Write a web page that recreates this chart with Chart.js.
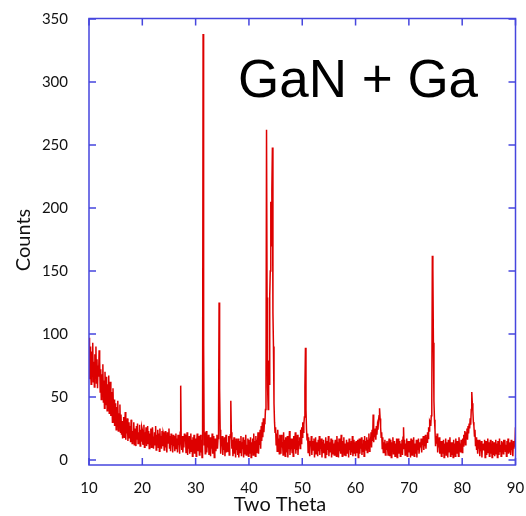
<!DOCTYPE html>
<html>
<head>
<meta charset="utf-8">
<script src="https://cdn.jsdelivr.net/npm/chart.js@4.4.0/dist/chart.umd.min.js"></script>
<style>
  html, body { margin: 0; padding: 0; background: #fff; }
  #xrdChart { display: block; }
</style>
</head>
<body>
<canvas id="xrdChart" width="526" height="516"></canvas>
<script>
// scan grid: 10 to 90 degrees two-theta, 0.1 degree steps
var startAngle = 10;
var stepAngle = 0.1;

// counts, one row per 2 degrees
var counts = [
    97, 64, 90, 71, 60, 86, 67, 93, 62, 78, 58, 84, 69, 90, 61, 80, 57, 75, 66, 87,
    79, 54, 72, 48, 68, 57, 76, 46, 63, 41, 70, 52, 44, 66, 39, 60, 48, 67, 37, 55,
    62, 35, 54, 43, 30, 57, 34, 48, 27, 45, 39, 24, 42, 31, 47, 23, 37, 28, 44, 22,
    36, 20, 31, 17, 28, 34, 18, 26, 38, 16, 29, 21, 33, 15, 25, 30, 17, 27, 14, 32,
    28, 13, 23, 18, 30, 12, 25, 20, 11, 27, 16, 29, 13, 22, 19, 28, 11, 24, 15, 26,
    24, 12, 20, 28, 10, 22, 15, 26, 11, 19, 27, 13, 23, 9, 21, 16, 25, 10, 18, 26,
    26, 9, 18, 22, 12, 27, 8, 20, 14, 24, 10, 21, 7, 25, 13, 19, 9, 23, 11, 22,
    20, 8, 16, 23, 10, 18, 6, 22, 13, 17, 25, 9, 19, 7, 21, 12, 18, 6, 20, 11,
    19, 7, 15, 21, 9, 17, 6, 20, 12, 16, 5, 22, 59, 14, 8, 19, 6, 17, 10, 21,
    15, 20, 6, 13, 22, 4, 17, 9, 19, 5, 14, 21, 7, 16, 3, 18, 11, 20, 5, 15,
    17, 3, 14, 21, 7, 15, 19, 4, 12, 20, 6, 16, 2, 18, 338, 91, 12, 22, 5, 17,
    23, 6, 16, 10, 20, 4, 13, 18, 3, 16, 9, 21, 5, 14, 19, 2, 12, 17, 7, 15,
    20, 9, 17, 30, 125, 57, 24, 5, 15, 11, 19, 4, 16, 8, 18, 3, 13, 20, 6, 14,
    14, 7, 19, 4, 16, 20, 47, 22, 9, 16, 3, 12, 18, 5, 15, 2, 17, 8, 13, 4,
    17, 2, 11, 15, 6, 19, 3, 14, 9, 18, 2, 13, 16, 5, 20, 4, 12, 7, 17, 3,
    16, 5, 12, 18, 2, 14, 7, 17, 4, 21, 8, 15, 3, 19, 6, 16, 10, 22, 5, 18,
    12, 24, 9, 27, 15, 30, 18, 33, 22, 29, 30, 40, 63, 262, 129, 58, 40, 79, 60, 130,
    150, 205, 170, 214, 248, 117, 90, 45, 30, 22, 26, 12, 21, 7, 24, 10, 17, 5, 20, 9,
    5, 20, 10, 14, 4, 22, 8, 16, 3, 18, 11, 6, 19, 2, 15, 9, 23, 4, 13, 17,
    11, 6, 17, 3, 19, 9, 14, 22, 5, 16, 8, 20, 4, 15, 12, 18, 9, 24, 13, 26,
    18, 30, 22, 28, 34, 58, 89, 40, 24, 16, 21, 6, 18, 9, 3, 15, 11, 19, 4, 14,
    15, 8, 17, 2, 12, 18, 5, 14, 10, 3, 16, 7, 19, 4, 13, 9, 17, 2, 14, 6,
    16, 7, 13, 2, 18, 10, 4, 15, 8, 19, 3, 14, 11, 6, 17, 2, 12, 16, 5, 13,
    4, 12, 16, 6, 3, 19, 9, 14, 2, 17, 7, 13, 5, 20, 10, 3, 15, 8, 18, 4,
    7, 13, 3, 16, 10, 5, 14, 2, 17, 8, 12, 4, 15, 6, 19, 3, 11, 16, 5, 14,
    3, 15, 11, 6, 16, 2, 12, 17, 5, 14, 9, 18, 4, 13, 7, 16, 3, 19, 10, 15,
    8, 18, 6, 16, 11, 21, 7, 17, 13, 22, 10, 24, 15, 36, 14, 23, 18, 25, 16, 27,
    20, 27, 24, 31, 35, 41, 33, 26, 18, 22, 9, 18, 6, 14, 10, 16, 4, 13, 8, 15,
    15, 4, 12, 17, 3, 9, 16, 2, 14, 7, 18, 5, 11, 15, 3, 13, 8, 17, 2, 12,
    17, 5, 11, 15, 3, 13, 8, 16, 4, 18, 26, 9, 16, 4, 13, 7, 17, 3, 12, 15,
    6, 15, 9, 2, 17, 11, 4, 16, 7, 18, 3, 13, 10, 5, 16, 2, 14, 8, 17, 5,
    5, 14, 10, 17, 6, 15, 12, 19, 8, 16, 11, 20, 9, 18, 14, 22, 17, 26, 23, 31,
    30, 27, 35, 48, 162, 152, 93, 47, 32, 24, 11, 19, 13, 21, 6, 16, 10, 18, 5, 15,
    9, 3, 15, 11, 5, 16, 2, 13, 8, 17, 4, 14, 10, 2, 16, 6, 12, 18, 3, 14,
    4, 14, 10, 2, 16, 7, 13, 3, 17, 9, 5, 15, 11, 3, 18, 8, 13, 6, 16, 10,
    6, 17, 11, 20, 14, 23, 12, 22, 17, 25, 16, 27, 21, 29, 25, 33, 28, 40, 54, 45,
    39, 30, 27, 19, 24, 11, 18, 8, 16, 5, 14, 9, 16, 3, 13, 7, 15, 2, 12, 8,
    13, 8, 16, 2, 11, 15, 4, 12, 17, 6, 14, 3, 10, 16, 5, 13, 2, 15, 9, 4,
    14, 3, 10, 16, 5, 13, 2, 15, 9, 4, 17, 7, 12, 3, 15, 9, 14, 5, 16, 11,
    16, 7, 12, 3, 15, 9, 17, 5, 13, 6, 14, 4, 16, 8, 12, 3, 15, 9, 13, 12,
    26
];

var xTicks = [10, 20, 30, 40, 50, 60, 70, 80, 90];
var yTicks = [0, 50, 100, 150, 200, 250, 300, 350];

var sampleName = 'GaN + Ga';
var xTitle = 'Two Theta';
var yTitle = 'Counts';

var points = counts.map(function(c, i) {
    return { x: +(startAngle + i * stepAngle).toFixed(1), y: c };
});

var frameColor = '#4646de';
var labelFont = 'Lato, "DejaVu Sans", sans-serif';

// box around the plot with inward ticks on all four sides, plus the text
var framePlugin = {
    id: 'frame',
    afterDraw: function(chart) {
        var ctx = chart.ctx;
        var a = chart.chartArea;
        var xs = chart.scales.x, ys = chart.scales.y;
        var len = 7;
        ctx.save();
        ctx.strokeStyle = frameColor;
        ctx.lineWidth = 1.5;
        ctx.strokeRect(a.left, a.top, a.right - a.left, a.bottom - a.top);
        ctx.beginPath();
        xs.ticks.forEach(function(t) {
            var px = xs.getPixelForValue(t.value);
            ctx.moveTo(px, a.bottom); ctx.lineTo(px, a.bottom - len);
            ctx.moveTo(px, a.top); ctx.lineTo(px, a.top + len);
        });
        ys.ticks.forEach(function(t) {
            var py = ys.getPixelForValue(t.value);
            ctx.moveTo(a.left, py); ctx.lineTo(a.left + len, py);
            ctx.moveTo(a.right, py); ctx.lineTo(a.right - len, py);
        });
        ctx.stroke();

        ctx.fillStyle = '#000';
        ctx.font = '53px "Liberation Sans", Arial, sans-serif';
        ctx.textAlign = 'left';
        ctx.textBaseline = 'alphabetic';
        ctx.fillText(sampleName, 238, 97);

        ctx.fillStyle = '#111';
        ctx.font = '20px ' + labelFont;
        ctx.textAlign = 'center';
        ctx.textBaseline = 'middle';
        ctx.fillText(xTitle, 280, 505);
        ctx.translate(24, 240);
        ctx.rotate(-Math.PI / 2);
        ctx.fillText(yTitle, 0, 0);
        ctx.restore();
    }
};

var ctx = document.getElementById('xrdChart').getContext('2d');
var chart = new Chart(ctx, {
    type: 'line',
    data: {
        datasets: [{
            label: 'Counts',
            data: points,
            borderColor: '#dd0000',
            borderWidth: 1.5,
            pointRadius: 0,
            fill: false,
            tension: 0
        }]
    },
    options: {
        responsive: false,
        animation: false,
        layout: { padding: { top: 18.5, right: 10.5, left: 0, bottom: 0 } },
        plugins: {
            legend: { display: false },
            tooltip: { enabled: false }
        },
        scales: {
            x: {
                type: 'linear',
                min: 10,
                max: 90,
                afterBuildTicks: function(scale) {
                    scale.ticks = xTicks.map(function(v) { return { value: v }; });
                },
                afterFit: function(scale) {
                    scale.height = 51;
                    scale.paddingLeft = 0;
                    scale.paddingRight = 0;
                },
                grid: { display: false },
                border: { display: false },
                ticks: {
                    color: '#111',
                    font: { family: labelFont, size: 15 },
                    padding: 6,
                    maxRotation: 0
                }
            },
            y: {
                min: -4,
                max: 350.4,
                afterBuildTicks: function(scale) {
                    scale.ticks = yTicks.map(function(v) { return { value: v }; });
                },
                afterFit: function(scale) {
                    scale.width = 89;
                    scale.paddingTop = 0;
                    scale.paddingBottom = 0;
                },
                grid: { display: false },
                border: { display: false },
                ticks: {
                    color: '#111',
                    font: { family: labelFont, size: 15 },
                    padding: 13
                }
            }
        }
    },
    plugins: [framePlugin]
});
</script>
</body>
</html>
